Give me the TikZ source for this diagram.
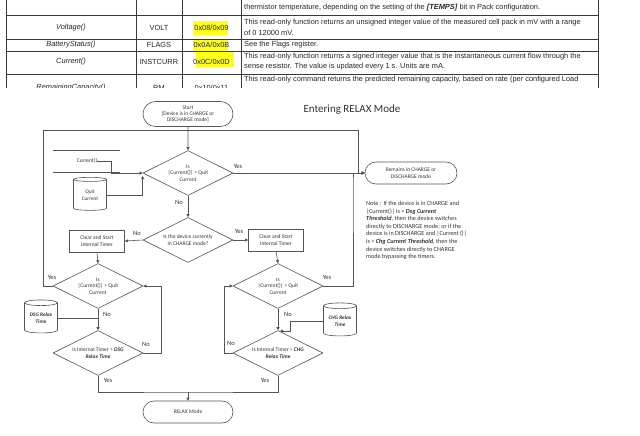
\documentclass[tikz,border=0pt]{standalone}
\usepackage{fontspec}
\setmainfont{Carlito}
\newfontfamily\tblfont{Liberation Sans}
\usetikzlibrary{shapes.geometric,shapes.misc,arrows.meta}

\definecolor{lineclr}{HTML}{555555}
\definecolor{txtclr}{HTML}{333333}
\definecolor{tblclr}{HTML}{3A3A3A}
\definecolor{hilite}{HTML}{FFFF1E}

\tikzset{
    term/.style={rounded rectangle, draw=lineclr, line width=0.6pt, align=center,
        text=txtclr, inner sep=0pt, font=\fontsize{5.5}{6.4}\selectfont},
    decision/.style={diamond, draw=lineclr, line width=0.6pt, aspect=2, inner sep=0pt,
        minimum width=90, minimum height=45, align=center, text=txtclr,
        font=\fontsize{5.5}{6.4}\selectfont},
    procbox/.style={rectangle, draw=lineclr, line width=0.6pt, minimum width=55,
        minimum height=22, align=center, text=txtclr, font=\fontsize{5.5}{6.4}\selectfont},
    store/.style={cylinder, shape border rotate=90, aspect=0.25, draw=lineclr,
        line width=0.6pt, minimum size=33, inner sep=0pt, align=center, text=txtclr,
        font=\fontsize{5.3}{6.4}\selectfont},
    conn/.style={draw=lineclr, line width=0.6pt, -{Triangle[length=3pt,width=3pt]}},
    link/.style={draw=lineclr, line width=0.6pt},
    lbl/.style={text=txtclr, inner sep=0pt, font=\fontsize{6.5}{7}\selectfont},
    tblline/.style={draw=tblclr, line width=0.7pt},
    cell/.style={inner sep=0pt, text=black!85},
}

\begin{document}
\begin{tikzpicture}[x=1pt, y=-1pt]
    \useasboundingbox[fill=white] (0,0) rectangle (640,436);

    % Register table (cropped screenshot)
    \begin{scope}[font=\tblfont\fontsize{7.4}{8.5}\selectfont]
        \clip (0,0) rectangle (640,88);
        % yellow marker on the addresses
        \fill[hilite] (193,21) rectangle (228,35);
        \fill[hilite] (193,39) rectangle (228,51);
        \fill[hilite] (196,51) rectangle (234,67);
        % grid
        \foreach \yy in {15,39,51,74}
            \draw[tblline] (6,\yy) -- (598,\yy);
        \foreach \xx in {6,136,182,241,598}
            \draw[tblline] (\xx,0) -- (\xx,88);
        % name, command and address columns
        \foreach \row/\yy/\fname/\cmd/\addr in {
            1/28/{Voltage()}/VOLT/{0x08/0x09},
            2/45/{BatteryStatus()}/FLAGS/{0x0A/0x0B},
            3/62/{Current()}/INSTCURR/{0x0C/0x0D},
            4/88/{RemainingCapacity()}/RM/{0x10/0x11}
        }{
            \node[cell] (name\row) at (71,\yy) {\textit{\fname}};
            \node[cell] (cmd\row) at (159,\yy) {\cmd};
            \node[cell] (addr\row) at (211.5,\yy) {\addr};
        }
        % description column
        \foreach \line/\yy/\txt in {
            0/8/{thermistor temperature, depending on the setting of the \textbf{\textit{[TEMPS]}} bit in Pack configuration.},
            1/23/{This read-only function returns an unsigned integer value of the measured cell pack in mV with a range},
            2/33/{of 0 12000 mV.},
            3/45/{See the Flags register.},
            4/57/{This read-only function returns a signed integer value that is the instantaneous current flow through the},
            5/67/{sense resistor. The value is updated every 1 s. Units are mA.},
            6/80/{This read-only command returns the predicted remaining capacity, based on rate (per configured Load}
        }{
            \node[cell, anchor=west] (desc\line) at (244,\yy) {\txt};
        }
    \end{scope}

    % Title
    \node[text=txtclr, font=\fontsize{11}{13}\selectfont] (title) at (352,110) {Entering RELAX Mode};

    % Flowchart nodes
    \node[term, minimum width=90, minimum height=25] (start) at (188,114)
        {Start\\{}[Device is in CHARGE or\\DISCHARGE mode]};
    \node[decision] (cur1) at (188,173) {Is\\|Current()| > Quit\\Current};
    \node[decision] (chgmode) at (188,240) {Is the device currently\\in CHARGE mode?};
    \node[procbox] (clrL) at (97,241) {Clear and Start\\Internal Timer};
    \node[procbox] (clrR) at (276,240) {Clear and Start\\Internal Timer};
    \node[decision] (curL) at (98,286) {Is\\|Current()| > Quit\\Current};
    \node[decision] (curR) at (278,286) {Is\\|Current()| > Quit\\Current};
    \node[decision] (tmrL) at (98,353) {Is Internal Timer > \textbf{\textit{DSG}}\\\textbf{\textit{Relax Time}}};
    \node[decision] (tmrR) at (278,353) {Is Internal Timer > \textbf{\textit{CHG}}\\\textbf{\textit{Relax Time}}};
    \node[term, minimum width=90, minimum height=22] (relax) at (188,412) {RELAX Mode};
    \node[term, minimum width=92, minimum height=22] (remains) at (411,173)
        {Remains in CHARGE or\\DISCHARGE mode};

    % Inputs
    \node[inner sep=0pt, text=txtclr, font=\fontsize{5.5}{6.4}\selectfont] (curdata) at (87,161) {Current()};
    \draw[link] (53,150) -- (120,150);
    \draw[link] (53,172) -- (120,172);
    \node[store] (quitcur) at (90,195) {Quit\\Current};
    \node[store] (dsgtime) at (41,318) {\textbf{\textit{DSG Relax}}\\\textbf{\textit{Time}}};
    \node[store] (chgtime) at (340,321) {\textbf{\textit{CHG Relax}}\\\textbf{\textit{Time}}};

    % Note
    \node[anchor=north west, align=left, inner sep=0pt, text=txtclr,
        font=\fontsize{6.2}{7.6}\selectfont] (note) at (366,201)
        {Note : If the device is in CHARGE and\\
         |Current()| is > \textbf{\textit{Dsg Current}}\\
         \textbf{\textit{Threshold}},  then the device switches\\
         directly to DISCHARGE mode; or if the\\
         device is in DISCHARGE and |Current ()|\\
         is > \textbf{\textit{Chg Current Threshold}}, then the\\
         device switches directly to CHARGE\\
         mode bypassing the timers.};

    % Helper points
    \coordinate (loopL) at (43,130);
    \coordinate (loopR) at (358,130);
    \coordinate (loopB) at (353,181);
    \coordinate (botjoin) at (188,392);
    \coordinate (chgjoin) at (280,331);

    % Connectors
    \draw[conn] (start) -- (cur1);
    \draw[conn] (curdata.east) -| ++(14,12) -- (cur1.west);
    \draw[conn] (quitcur.east) -| ([yshift=-3pt]cur1.west);
    \draw[conn] (cur1.east) -- (remains.west);
    \draw[conn] (cur1.south) -- (chgmode.north);
    \draw[conn] (chgmode.west) -- (clrL.east);
    \draw[conn] (chgmode.east) -- (clrR.west);
    \draw[conn] (clrL.south) -- (curL.north);
    \draw[conn] (clrR.south) -- (curR.north);
    \draw[conn] (curL.west) -| (loopL) -- (loopR) |- (remains.west);
    \draw[conn] (curR.east) -| (loopB) |- (remains.west);
    \draw[conn] (curL.south) -- (tmrL.north);
    \draw[conn] (curR.south) -- (tmrR.north);
    \draw[link] (dsgtime.east) -- (dsgtime.east -| tmrL.north);
    \draw[conn] (chgtime.west) -- ++(-33,0) |- (chgjoin);
    \draw[conn] (tmrL.east) -- ++(18,0) |- (curL.east);
    \draw[conn] (tmrR.west) -- ++(-8,0) |- (curR.west);
    \draw[link] (tmrL.south) |- (botjoin) -| (tmrR.south);
    \draw[conn] (botjoin) -- (relax.north);

    % Yes / No labels
    \node[lbl] (y1) at (238,166) {Yes};
    \node[lbl] (n1) at (179,202) {No};
    \node[lbl] (n2) at (137,233) {No};
    \node[lbl] (y2) at (239,231) {Yes};
    \node[lbl] (y3) at (52,277) {Yes};
    \node[lbl] (n3) at (107,314) {No};
    \node[lbl] (n4) at (146,344) {No};
    \node[lbl] (y4) at (108,380) {Yes};
    \node[lbl] (y5) at (327,277) {Yes};
    \node[lbl] (n5) at (288,314) {No};
    \node[lbl] (n6) at (231,343) {No};
    \node[lbl] (y6) at (265,380) {Yes};
\end{tikzpicture}
\end{document}
